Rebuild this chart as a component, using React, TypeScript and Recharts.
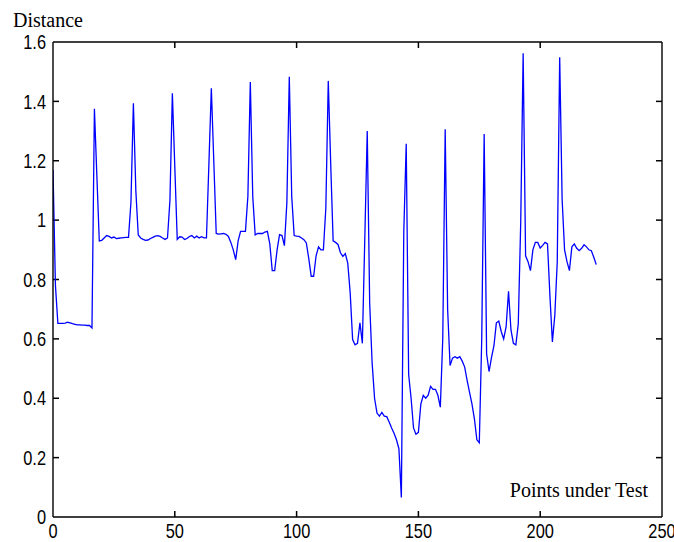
import React from 'react';
import { LineChart, Line, XAxis, YAxis, ReferenceLine } from 'recharts';

const distance: number[] = [
  1.17, 0.78, 0.652, 0.652, 0.652, 0.653, 0.656, 0.654, 0.651, 0.649,
  0.647, 0.647, 0.646, 0.646, 0.645, 0.645, 0.637, 1.375, 1.15, 0.93,
  0.932, 0.94, 0.948, 0.945, 0.94, 0.943, 0.938, 0.939, 0.94, 0.941,
  0.942, 0.942, 1.06, 1.394, 1.1, 0.95, 0.94, 0.935, 0.932, 0.933,
  0.938, 0.942, 0.946, 0.948, 0.945, 0.94, 0.935, 0.94, 1.066, 1.427,
  1.18, 0.935, 0.944, 0.943, 0.935, 0.938, 0.945, 0.948, 0.94, 0.946,
  0.94, 0.944, 0.94, 0.94, 1.19, 1.444, 1.2, 0.955, 0.953, 0.954,
  0.955, 0.952, 0.945, 0.925, 0.9, 0.867, 0.93, 0.962, 0.962, 0.962,
  1.08, 1.465, 1.08, 0.95, 0.955, 0.955, 0.955, 0.96, 0.962, 0.92,
  0.83, 0.83, 0.9, 0.951, 0.948, 0.914, 1.058, 1.483, 1.08, 0.948,
  0.946, 0.945, 0.94, 0.934, 0.923, 0.87, 0.811, 0.811, 0.88, 0.91,
  0.9, 0.9, 1.04, 1.469, 1.19, 0.93, 0.925, 0.918, 0.89, 0.878,
  0.887, 0.855, 0.755, 0.598, 0.58, 0.585, 0.654, 0.585, 0.94, 1.3,
  0.72, 0.52, 0.4, 0.35, 0.34, 0.352, 0.34, 0.338, 0.32, 0.3,
  0.282, 0.26, 0.23, 0.066, 0.96, 1.257, 0.48, 0.4, 0.3, 0.279,
  0.285, 0.38, 0.41, 0.4, 0.41, 0.44, 0.43, 0.43, 0.41, 0.37,
  0.6, 1.306, 0.7, 0.51, 0.535, 0.54, 0.535, 0.54, 0.525, 0.505,
  0.46, 0.42, 0.38, 0.33, 0.26, 0.25, 0.6, 1.29, 0.55, 0.49,
  0.537, 0.576, 0.654, 0.66, 0.625, 0.6, 0.64, 0.76, 0.63, 0.585,
  0.58, 0.65, 0.99, 1.562, 0.88, 0.86, 0.83, 0.9, 0.925, 0.925,
  0.906, 0.915, 0.925, 0.92, 0.744, 0.59, 0.68, 0.86, 1.549, 1.07,
  0.9, 0.86, 0.83, 0.91, 0.92, 0.905, 0.897, 0.905, 0.917, 0.91,
  0.9, 0.897, 0.875, 0.85,
];

const xTicks: number[] = [0, 50, 100, 150, 200, 250];
const yTicks: number[] = [0, 0.2, 0.4, 0.6, 0.8, 1, 1.2, 1.4, 1.6];
const yLabel = 'Distance';
const xLabel = 'Points under Test';

const data = distance.map((d, i) => ({ x: i, distance: d }));

const sans = "'Liberation Sans', Arial, sans-serif";
const serif = "'Liberation Serif', 'Times New Roman', serif";

const W = 674;
const H = 542;
const M = { top: 41, right: 11, bottom: 0, left: 0 };
const X_AXIS_H = 25;
const Y_AXIS_W = 53;
const X_MIN = 0, X_MAX = 250, Y_MIN = 0, Y_MAX = 1.6;
const plotW = W - M.left - M.right - Y_AXIS_W - 1;
const plotH = H - M.top - M.bottom - X_AXIS_H - 1;
const TICK_PX = 6;
const tickLenX = (TICK_PX * (X_MAX - X_MIN)) / plotW;
const tickLenY = (TICK_PX * (Y_MAX - Y_MIN)) / plotH;

const X_MARGIN = 7;
const Y_MARGIN = 7;

const XTick = (props: any) => {
  const { x, y, payload } = props;
  return (
    <text
      transform={`translate(${x},${y}) scale(0.82,1)`}
      textAnchor="middle"
      dy="0.72em"
      fontFamily={sans}
      fontSize={20}
      fill="#000"
    >
      {String(payload.value)}
    </text>
  );
};

const YTick = (props: any) => {
  const { x, y, payload } = props;
  return (
    <text
      transform={`translate(${x},${y}) scale(0.82,1)`}
      textAnchor="end"
      dy="0.36em"
      fontFamily={sans}
      fontSize={20}
      fill="#000"
    >
      {String(payload.value)}
    </text>
  );
};

const EmptyTick = () => <g />;

const axisStroke = { stroke: '#000', strokeWidth: 1.4 };
const tickStroke = { stroke: '#000', strokeWidth: 1.5 };

export default function App() {
  const innerX = xTicks.filter((t) => t > X_MIN && t < X_MAX);
  const innerY = yTicks.filter((t) => t > Y_MIN && t < Y_MAX);
  return (
    <div style={{ position: 'absolute', left: 0, top: 0, background: '#fff' }}>
      <LineChart width={W} height={H} data={data} margin={M}>
        <XAxis
          dataKey="x"
          type="number"
          domain={[X_MIN, X_MAX]}
          ticks={xTicks}
          interval={0}
          height={X_AXIS_H}
          tickSize={0}
          tickMargin={X_MARGIN}
          axisLine={axisStroke}
          tickLine={false}
          tick={XTick}
          allowDataOverflow
          label={{
            content: (p: any) => {
              const vb = p.viewBox || {};
              return (
                <text
                  x={vb.x + vb.width - 14}
                  y={vb.y - 20}
                  textAnchor="end"
                  fontFamily={serif}
                  fontSize={20}
                  fill="#000"
                >
                  {xLabel}
                </text>
              );
            },
          }}
        />
        <XAxis
          xAxisId="top"
          dataKey="x"
          type="number"
          orientation="top"
          domain={[X_MIN, X_MAX]}
          ticks={xTicks}
          height={1}
          tickSize={0}
          tick={EmptyTick}
          axisLine={axisStroke}
          tickLine={false}
        />
        <YAxis
          type="number"
          domain={[Y_MIN, Y_MAX]}
          ticks={yTicks}
          interval={0}
          width={Y_AXIS_W}
          tickSize={0}
          tickMargin={Y_MARGIN}
          axisLine={axisStroke}
          tickLine={false}
          tick={YTick}
          allowDataOverflow
          label={{
            content: (p: any) => {
              const vb = p.viewBox || {};
              return (
                <text
                  x={vb.x + 13}
                  y={vb.y - 15}
                  textAnchor="start"
                  fontFamily={serif}
                  fontSize={20}
                  fill="#000"
                >
                  {yLabel}
                </text>
              );
            },
          }}
        />
        <YAxis
          yAxisId="right"
          orientation="right"
          type="number"
          domain={[Y_MIN, Y_MAX]}
          ticks={yTicks}
          width={1}
          tickSize={0}
          tick={EmptyTick}
          axisLine={axisStroke}
          tickLine={false}
        />
        {innerX.map((t) => (
          <ReferenceLine
            key={`xb${t}`}
            segment={[{ x: t, y: Y_MIN }, { x: t, y: Y_MIN + tickLenY }]}
            {...tickStroke}
            ifOverflow="visible"
          />
        ))}
        {innerX.map((t) => (
          <ReferenceLine
            key={`xt${t}`}
            segment={[{ x: t, y: Y_MAX }, { x: t, y: Y_MAX - tickLenY }]}
            {...tickStroke}
            ifOverflow="visible"
          />
        ))}
        {innerY.map((t) => (
          <ReferenceLine
            key={`yl${t}`}
            segment={[{ x: X_MIN, y: t }, { x: X_MIN + tickLenX, y: t }]}
            {...tickStroke}
            ifOverflow="visible"
          />
        ))}
        {innerY.map((t) => (
          <ReferenceLine
            key={`yr${t}`}
            segment={[{ x: X_MAX, y: t }, { x: X_MAX - tickLenX, y: t }]}
            {...tickStroke}
            ifOverflow="visible"
          />
        ))}
        <Line
          type="linear"
          dataKey="distance"
          stroke="#0000ff"
          strokeWidth={1.3}
          dot={false}
          isAnimationActive={false}
        />
      </LineChart>
    </div>
  );
}
